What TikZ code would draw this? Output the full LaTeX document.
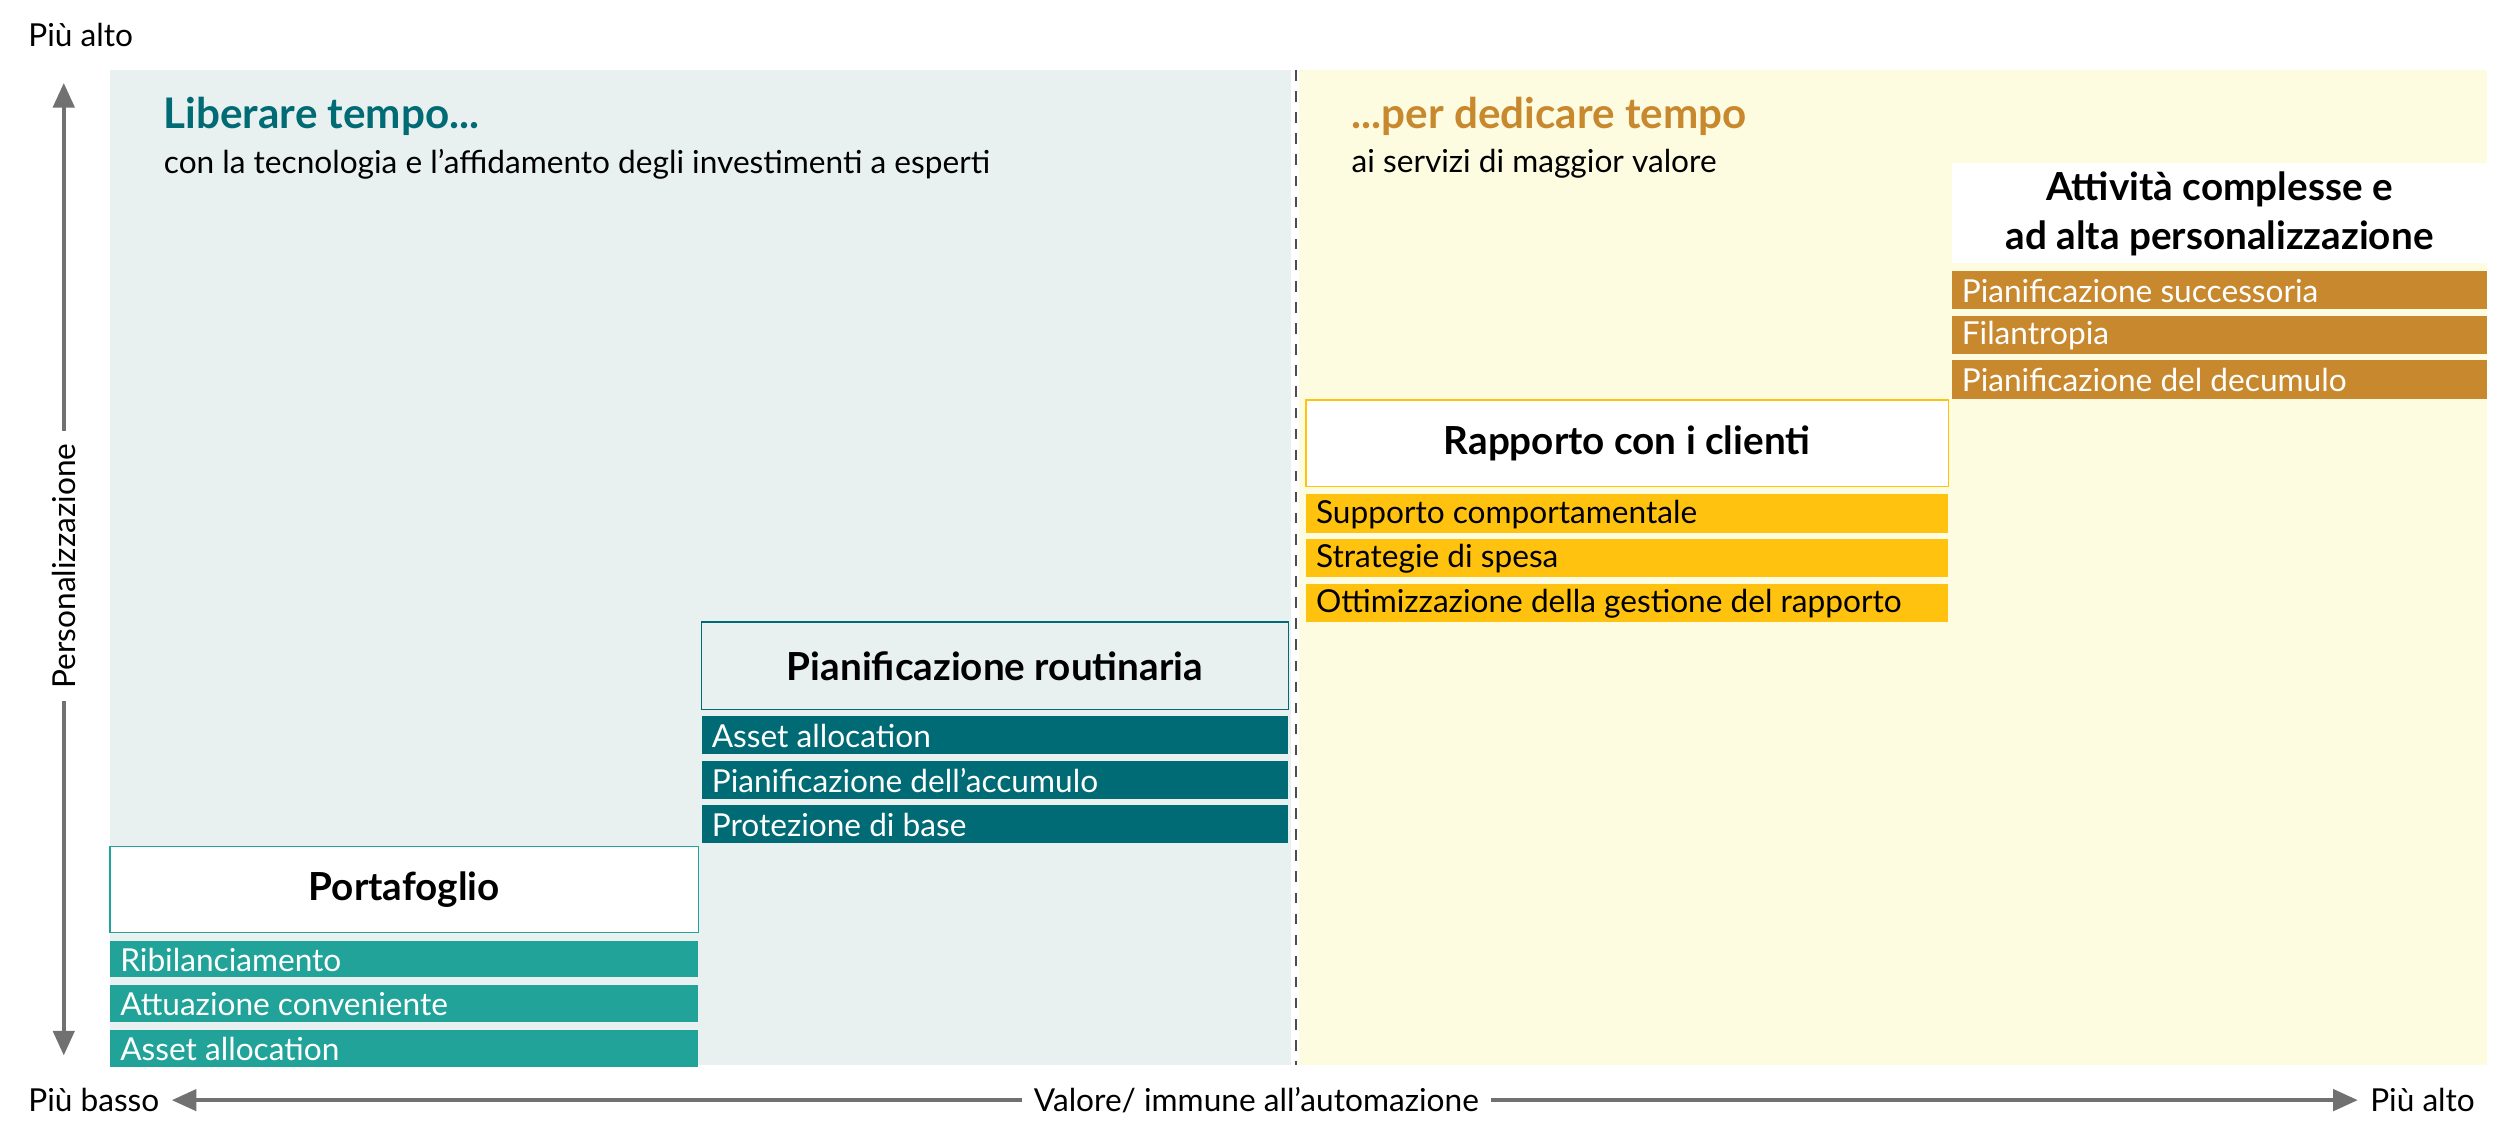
\documentclass[tikz,border=0pt]{standalone}
\usepackage{fontspec}
\setmainfont{Lato}
\usetikzlibrary{arrows.meta}
\definecolor{lbg}{HTML}{E8F0F0}
\definecolor{rbg}{HTML}{FDFBE0}
\definecolor{tealA}{HTML}{22A39A}
\definecolor{tealB}{HTML}{006B75}
\definecolor{yel}{HTML}{FFC20E}
\definecolor{gold}{HTML}{C8892E}
\definecolor{gtxt}{HTML}{4D4D4D}
\tikzset{
 row/.style={anchor=north west,minimum height=0.38cm,text=white,font=\fontsize{9}{10}\selectfont,inner sep=0pt,text depth=0pt},
 rowtxt/.style={anchor=west,text=white,font=\fontsize{9}{10}\selectfont,inner sep=0pt},
 head/.style={font=\bfseries\fontsize{11}{13}\selectfont,align=center},
 lab/.style={font=\fontsize{9}{10}\selectfont,text=black},
 axis/.style={gtxt!80,line width=1.2pt,-{Triangle[length=7pt,width=6pt]}}
}
\begin{document}
\begin{tikzpicture}[x=0.015944cm,y=-0.015944cm]
\useasboundingbox (0,0) rectangle (1568,717);
\fill[lbg] (69,44) rectangle (810,668);
\fill[rbg] (815,44) rectangle (1560,668);
\draw[gtxt,dashed,line width=0.6pt] (813,44) -- (813,668);
% axes
\node[lab,anchor=west] (pa) at (10,22) {Più alto};
\node[lab,rotate=90] (pers) at (40,355) {Personalizzazione};
\coordinate (vt) at (40,52); \coordinate (vb) at (40,662);
\draw[axis] (pers.east) -- (vt);
\draw[axis] (pers.west) -- (vb);
\node[lab,anchor=west] (pb) at (10,690) {Più basso};
\node[lab] (val) at (788,690) {Valore/ immune all’automazione};
\node[lab,anchor=east] (pa2) at (1560,690) {Più alto};
\draw[axis] (val.west) -- (pb.east);
\draw[axis] (val.east) -- (pa2.west);
% titles
\node[anchor=west,text=tealB,font=\bfseries\fontsize{12}{14}\selectfont] (t1) at (95,73) {Liberare tempo...};
\node[anchor=west,lab] (s1) at (95,103) {con la tecnologia e l’affidamento degli investimenti a esperti};
\node[anchor=west,text=gold,font=\bfseries\fontsize{12}{14}\selectfont] (t2) at (840,73) {...per dedicare tempo};
\node[anchor=west,lab] (s2) at (840,103) {ai servizi di maggior valore};
% Portafoglio
\draw[tealA,fill=white] (69,531) rectangle (438,585);
\node[head] (h1) at (253.5,558) {Portafoglio};
\foreach \y/\t [count=\i] in {590/Ribilanciamento,618/Attuazione conveniente,646/Asset allocation}{
 \fill[tealA] (69,\y) rectangle (438,\y+23);
 \node[rowtxt] (p\i) at (75,\y+12) {\t};}
% Pianificazione routinaria
\draw[tealB,fill=lbg] (440,390) rectangle (808,445);
\node[head] (h2) at (624,418) {Pianificazione routinaria};
\foreach \y/\t [count=\i] in {449/Asset allocation,477/Pianificazione dell’accumulo,505/Protezione di base}{
 \fill[tealB] (440,\y) rectangle (808,\y+24);
 \node[rowtxt] (r\i) at (446,\y+12.5) {\t};}
% Rapporto
\draw[yel,fill=white] (819,251) rectangle (1222,305);
\node[head] (h3) at (1020.5,278) {Rapporto con i clienti};
\foreach \y/\t [count=\i] in {310/Supporto comportamentale,338/Strategie di spesa,366/Ottimizzazione della gestione del rapporto}{
 \fill[yel] (819,\y) rectangle (1222,\y+24);
 \node[rowtxt,text=black] (c\i) at (825,\y+12.5) {\t};}
% Attivita complesse
\fill[white] (1224,102) rectangle (1560,165);
\node[head,font=\bfseries\fontsize{11}{14}\selectfont] (h4) at (1392,134) {Attività complesse e\\ad alta personalizzazione};
\foreach \y/\t [count=\i] in {170/Pianificazione successoria,198/Filantropia,226/Pianificazione del decumulo}{
 \fill[gold] (1224,\y) rectangle (1560,\y+24);
 \node[rowtxt] (a\i) at (1230,\y+12.5) {\t};}
\end{tikzpicture}
\end{document}
